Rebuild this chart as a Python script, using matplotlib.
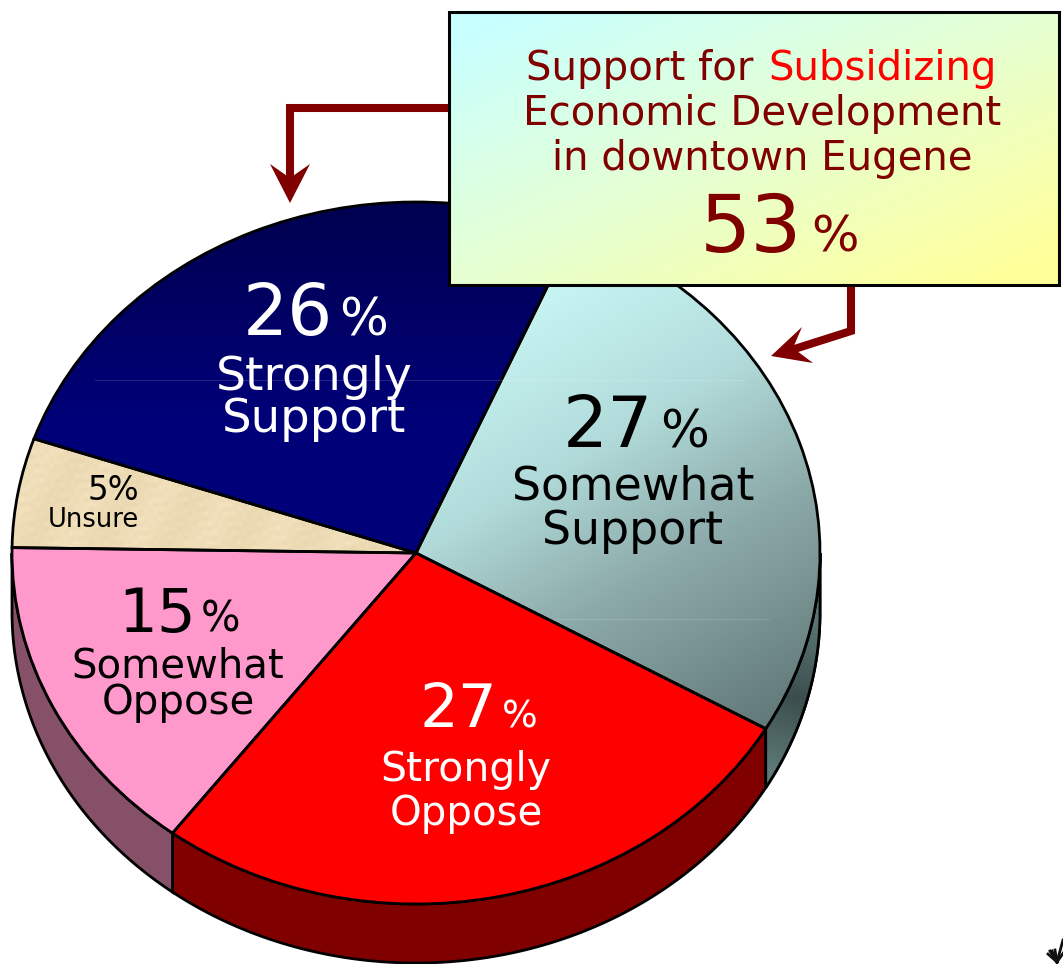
import numpy as np
import matplotlib
matplotlib.use('Agg')
import matplotlib.pyplot as plt
from matplotlib.colors import LinearSegmentedColormap
from matplotlib.patches import Polygon, Rectangle

categories = ['Somewhat Support', 'Strongly Oppose', 'Somewhat Oppose', 'Unsure', 'Strongly Support']
labels = [27, 27, 15, 5, 26]
# slice sizes as measured on the picture, the printed labels are rounded
shares = [26.9, 26.95, 14.95, 5.03, 26.17]
top_colors = ['#8fb5b5', '#ff0000', '#ff99cc', '#ecd9b0', '#000078']
side_colors = ['#4f6968', '#800000', '#855068', '#000000', '#000000']
callout_total = '53'

W, H = 1063, 964
CX, CY, RX, RY = 416, 553, 404, 351
DEPTH = 59 / RY
START = 66.8

fig = plt.figure(figsize=(W / 100, H / 100), dpi=100)
ax = fig.add_axes([0, 0, 1, 1])
top = fig.add_axes([0, 0, 1, 1])
top.patch.set_alpha(0)
top.set_zorder(5)


def gradient(x, y, x0, y0, x1, y1):
    dx, dy = x1 - x0, y1 - y0
    t = ((x - x0) * dx + (y - y0) * dy) / (dx * dx + dy * dy)
    return np.clip(t, 0, 1)


def to_data(px, py):
    return (px - CX) / RX, (CY - py) / RY


# side wall of the pie
ang = START
for val, col in zip(shares, side_colors):
    a, b = ang, ang - val * 3.6
    ang = b
    lo, hi = max(b, -180), min(a, 0)
    if lo >= hi:
        continue
    th = np.radians(np.linspace(hi, lo, 120))
    xs, ys = np.cos(th), np.sin(th)
    pts = np.r_[np.c_[xs, ys], np.c_[xs[::-1], ys[::-1] - DEPTH]]
    wall = Polygon(pts, closed=True, fc=col, ec='black', lw=2, zorder=1)
    ax.add_patch(wall)
    if col == '#4f6968':
        gx, gy = np.meshgrid(np.linspace(0.8, 1.02, 60), np.linspace(-0.8, 0.02, 60))
        t = gradient(gx, gy, 0.86, -0.62, 1.0, -0.2)
        cm = LinearSegmentedColormap.from_list('wall', ['#5f7a78', '#3b4e4e', '#5a7473'])
        im = ax.imshow(t, extent=[0.8, 1.02, -0.8, 0.02], origin='lower', cmap=cm, vmin=0, vmax=1,
                       aspect='auto', zorder=1.1)
        im.set_clip_path(wall)
        wall_line = Polygon(pts, closed=True, fc='none', ec='black', lw=2, zorder=1.2)
        ax.add_patch(wall_line)

wedges, _ = ax.pie(shares, colors=top_colors, startangle=START, counterclock=False, radius=1,
                   center=(0, 0), frame=True, wedgeprops={'linewidth': 0})
for w in wedges:
    w.set_zorder(2)

# gradient on somewhat support
px = np.linspace(416, 830, 200)
py = np.linspace(190, 740, 200)
gx, gy = np.meshgrid(px, py)
t = gradient(gx, gy, 510, 300, 760, 730)
cm = LinearSegmentedColormap.from_list('teal', [(0, '#c8f6f4'), (0.33, '#b2dcdb'), (0.62, '#8caaa9'), (1, '#627a79')])
x0, y0 = to_data(px[0], py[0])
x1, y1 = to_data(px[-1], py[-1])
im = ax.imshow(t, extent=[x0, x1, y1, y0], origin='upper', cmap=cm, vmin=0, vmax=1, aspect='auto', zorder=3)
im.set_clip_path(wedges[0])

# navy gets a bit lighter going down
px = np.linspace(0, 600, 10)
py = np.linspace(195, 560, 200)
gx, gy = np.meshgrid(px, py)
t = gradient(gx, gy, 0, 205, 0, 420)
cm = LinearSegmentedColormap.from_list('navy', ['#000050', '#000078'])
x0, y0 = to_data(px[0], py[0])
x1, y1 = to_data(px[-1], py[-1])
im = ax.imshow(t, extent=[x0, x1, y1, y0], origin='upper', cmap=cm, vmin=0, vmax=1, aspect='auto', zorder=3)
im.set_clip_path(wedges[4])

# paper texture on unsure
px = np.arange(0, 430, 5.0)
py = np.arange(425, 560, 5.0)
gx, gy = np.meshgrid(px, py)
t = (np.sin(gx * 0.61 + gy * 0.37) + np.sin(gx * 0.23 - gy * 0.71) + np.sin(gx * 1.3 + gy * 1.9) * 0.6
     + np.sin(gx * 0.09 + gy * 0.05)) / 3.6 * 0.5 + 0.5
cm = LinearSegmentedColormap.from_list('paper', ['#e6d3aa', '#eedcb6', '#f6e6c4'])
x0, y0 = to_data(px[0], py[0])
x1, y1 = to_data(px[-1], py[-1])
im = ax.imshow(t, extent=[x0, x1, y1, y0], origin='upper', cmap=cm, vmin=0, vmax=1, aspect='auto',
               interpolation='bilinear', zorder=3)
im.set_clip_path(wedges[3])

outline, _ = ax.pie(shares, colors=['none'] * 5, startangle=START, counterclock=False, radius=1,
                    center=(0, 0), frame=True, wedgeprops={'linewidth': 2, 'edgecolor': 'black'})
for w in outline:
    w.set_zorder(4)

ax.set_aspect('auto')
ax.set_xlim(-CX / RX, (W - CX) / RX)
ax.set_ylim((CY - H) / RY, CY / RY)
ax.axis('off')

top.set_xlim(0, W)
top.set_ylim(H, 0)
top.axis('off')

# faint seams across the pie
top.plot([95, 745], [379.5, 379.5], color='white', alpha=0.15, lw=0.7, zorder=1)
top.plot([555, 768], [619, 619], color='white', alpha=0.15, lw=0.7, zorder=1)

# arrows
DR = '#800000'
top.plot([448, 290, 290], [108, 108, 185], color=DR, lw=5.8, solid_joinstyle='miter', solid_capstyle='butt', zorder=2)
top.add_patch(Polygon([(290, 203), (270, 164), (290, 178), (310, 164)], closed=True, fc=DR, ec='none', zorder=3))
top.plot([851, 851, 785], [285, 331, 352], color=DR, lw=5.8, solid_joinstyle='miter', solid_capstyle='butt', zorder=2)
top.add_patch(Polygon([(771, 356), (802, 327), (793, 348), (813, 363)], closed=True, fc=DR, ec='none', zorder=3))

# callout
bx, by, bw, bh = 449, 12, 610, 273
gx, gy = np.meshgrid(np.linspace(0, 1, 200), np.linspace(0, 1, 100))
t = gradient(gx, gy, 0.05, 0.05, 0.95, 0.95)
cm = LinearSegmentedColormap.from_list('box', ['#c8ffff', '#e6ffd2', '#ffff99'])
top.imshow(t, extent=[bx, bx + bw, by + bh, by], origin='upper', cmap=cm, vmin=0, vmax=1, aspect='auto', zorder=4)
top.add_patch(Rectangle((bx, by), bw, bh, fc='none', ec='black', lw=2.2, zorder=5))
top.set_xlim(0, W)
top.set_ylim(H, 0)


def txt(x, y, s, size, color, ha='center'):
    top.text(x, y, s, fontsize=size, color=color, ha=ha, va='baseline', zorder=6, family='DejaVu Sans')


txt(526, 80, 'Support for', 29, DR, ha='left')
txt(768, 80, 'Subsidizing', 29, '#ff0000', ha='left')
txt(762, 125, 'Economic Development', 29, DR)
txt(762, 170, 'in downtown Eugene', 29, DR)
txt(700, 252, callout_total, 58, DR, ha='left')
txt(811, 252, '%', 36, DR, ha='left')

# wedge labels
txt(243, 335, f'{labels[4]}', 51, 'white', ha='left')
txt(339, 335, '%', 37, 'white', ha='left')
txt(314, 390, 'Strongly', 34, 'white')
txt(314, 432, 'Support', 33.5, 'white')

txt(563, 447, f'{labels[0]}', 51, 'black', ha='left')
txt(660, 447, '%', 37, 'black', ha='left')
txt(633, 500, 'Somewhat', 33, 'black')
txt(633, 544, 'Support', 33, 'black')

txt(419, 727, f'{labels[1]}', 44, 'white', ha='left')
txt(502, 727, '%', 27, 'white', ha='left')
txt(466, 781, 'Strongly', 29.5, 'white')
txt(466, 825, 'Oppose', 29, 'white')

txt(118, 632, f'{labels[2]}', 44, 'black', ha='left')
txt(201, 632, '%', 30, 'black', ha='left')
txt(178, 678, 'Somewhat', 29, 'black')
txt(178, 714, 'Oppose', 29, 'black')

txt(87, 500, f'{labels[3]}%', 23.5, 'black', ha='left')
txt(93, 527, 'Unsure', 18.5, 'black')

# small mark in the corner
for x2, y2 in [(1048, 954), (1050, 951), (1052, 951), (1055, 950), (1063, 940), (1064, 952)]:
    top.plot([1057, x2], [962, y2], color='#111111', lw=2, zorder=2)

fig.savefig('out.png', dpi=100)
